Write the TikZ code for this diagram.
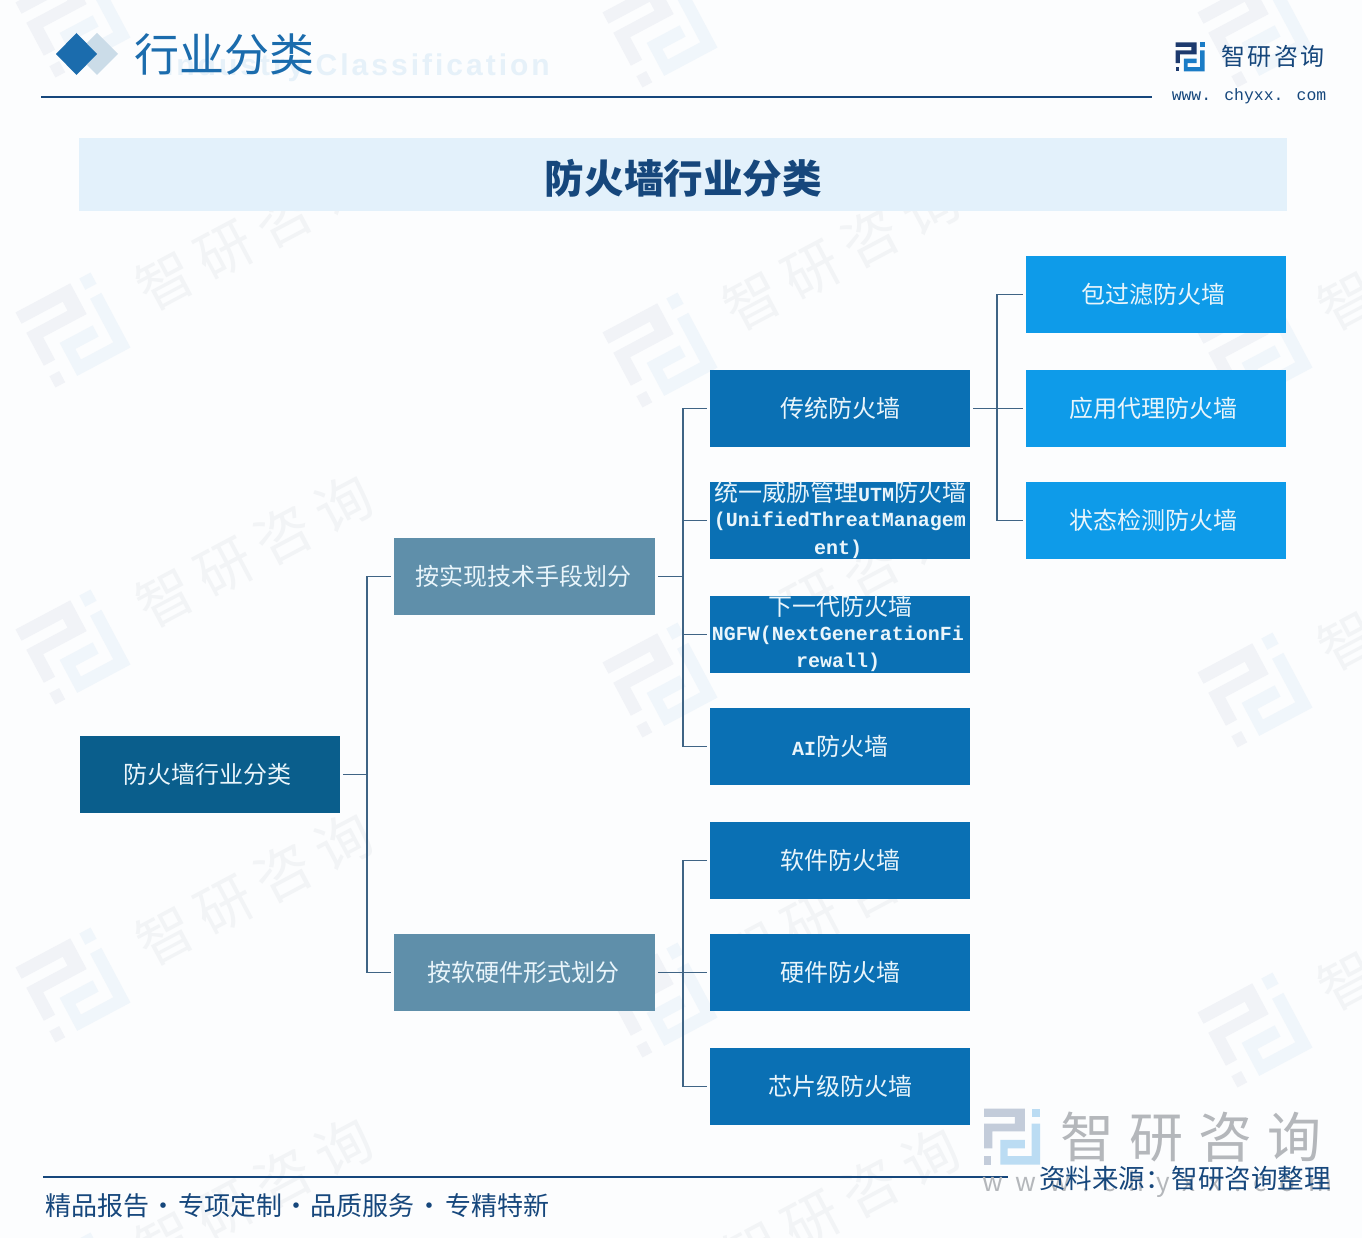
\documentclass[tikz,border=0pt]{standalone}
\usepackage{fontspec}
\usetikzlibrary{calc}
\setmainfont{Noto Sans CJK SC}
\newfontfamily\monof{Liberation Mono}
\newfontfamily\latinf[LetterSpace=10]{Liberation Sans}
\newfontfamily\wmf[LetterSpace=20]{Noto Sans CJK SC}
\newfontfamily\wmbigf[LetterSpace=28]{Noto Sans CJK SC}
\newfontfamily\brandf[LetterSpace=9]{Noto Sans CJK SC}
\definecolor{pagebg}{HTML}{FCFDFE}
\definecolor{rootc}{HTML}{0A5E8C}
\definecolor{midc}{HTML}{5F8FAA}
\definecolor{thirdc}{HTML}{0A70B4}
\definecolor{leafc}{HTML}{0E9BE9}
\definecolor{linec}{HTML}{3F6485}
\definecolor{boxtext}{HTML}{E9F5FB}
\definecolor{headc}{HTML}{1B6CAD}
\definecolor{navyc}{HTML}{16477C}
\definecolor{bannerc}{HTML}{E3F1FB}
\definecolor{entitlec}{HTML}{E6F1F9}
\definecolor{wma}{HTML}{F1F3F7}
\definecolor{wmb}{HTML}{F0F6FB}
\definecolor{wmt}{HTML}{F2F4F6}
\definecolor{biga}{HTML}{C3CCDA}
\definecolor{bigb}{HTML}{BBDCF3}
\definecolor{biggray}{HTML}{B4B7BB}
\definecolor{smalla}{HTML}{1D3A6E}
\definecolor{smallb}{HTML}{1B7CC6}
\definecolor{diamondc}{HTML}{CBDCE8}
\newcommand\zlogo[6]{%
  \begin{scope}[shift={(#1,#2)},rotate=#4,scale=#3,shift={(-.5,-.5)}]
    \fill[#5] (0,0) -- (.73,0) -- (.73,.41) -- (.15,.41) -- (.15,.71) -- (0,.71) -- (0,.27) -- (.55,.27) -- (.55,.15) -- (0,.15) -- cycle;
    \fill[#5] (0,.85) rectangle (.13,1);
    \fill[#6] (.85,0) rectangle (1,.15);
    \fill[#6] (.85,.27) -- (1,.27) -- (1,1) -- (.29,1) -- (.29,.56) -- (.73,.56) -- (.73,.71) -- (.42,.71) -- (.42,.85) -- (.85,.85) -- cycle;
  \end{scope}}
\newcommand\wmk[3]{%
  \zlogo{#2}{#3}{85}{28}{wma}{wmb}%
  \begin{scope}[shift={(#2,#3)},rotate=28]
    \node[wmtext,transform shape] (wm#1) at (205,0) {智研咨询};
  \end{scope}}
\newcommand\lft[1]{\hspace*{-6pt}#1}
\tikzset{
  x=1pt,y=-1pt,
  wmtext/.style={inner sep=0pt,text=wmt,font=\wmf\fontsize{56}{60}\selectfont},
  boxbase/.style={minimum width=260pt,minimum height=77pt,inner sep=0pt,text=boxtext,font=\fontsize{24}{28}\selectfont},
  rootbox/.style={boxbase,fill=rootc},
  midbox/.style={boxbase,fill=midc},
  thirdbox/.style={boxbase,fill=thirdc},
  leafbox/.style={boxbase,fill=leafc},
  stem/.style={draw=linec,line width=1.8pt,shorten <=3pt},
  branch/.style={draw=linec,line width=1.2pt,shorten >=3pt},
  inline/.style={inner sep=0pt,text=boxtext,font=\fontsize{24}{28}\selectfont},
  monoline/.style={inline,font=\monof\bfseries\fontsize{20}{24}\selectfont},
  plain/.style={inner sep=0pt},
}
\newcommand\mono[1]{{\monof\bfseries\fontsize{20}{24}\selectfont #1}}
\begin{document}
\begin{tikzpicture}
\useasboundingbox (0,0) rectangle (1362,1238);
\fill[pagebg] (0,0) rectangle (1362,1238);
% watermarks
\begin{scope}
\clip (0,0) rectangle (1362,1238);
\zlogo{73}{20}{85}{28}{wma}{wmb}
\zlogo{660}{30}{85}{28}{wma}{wmb}
\zlogo{1255}{30}{85}{28}{wma}{wmb}
\wmk{a}{73}{330}
\wmk{b}{73}{647}
\wmk{c}{73}{985}
\wmk{d}{73}{1290}
\wmk{e}{660}{350}
\wmk{f}{660}{680}
\wmk{g}{660}{1000}
\wmk{h}{660}{1300}
\wmk{i}{1255}{350}
\wmk{j}{1255}{690}
\wmk{k}{1255}{1030}
\end{scope}
% header
\node[plain,anchor=east,text=entitlec,font=\latinf\bfseries\fontsize{30}{34}\selectfont] (entitle) at (550,68) {Industry Classification};
\fill[diamondc] (97,33) -- (118,54) -- (97,75) -- (76,54) -- cycle;
\fill[headc] (76.5,33) -- (97,54) -- (76.5,75) -- (56,54) -- cycle;
\node[plain,anchor=west,text=headc,font=\fontsize{45}{50}\selectfont] (head) at (134,54) {行业分类};
\draw[navyc,line width=1.5pt] (41,97) -- (1152,97);
\zlogo{1190}{57}{29}{0}{smalla}{smallb}
\node[plain,text=navyc,font=\brandf\fontsize{24}{28}\selectfont] (brand) at (1273,56) {智研咨询};
\node[plain,text=navyc,font=\monof\fontsize{17.3}{20}\selectfont,scale=.95] (site) at (1249,96) {www. chyxx. com};
% banner
\fill[bannerc] (79,138) rectangle (1287,211);
\node[plain,text=navyc,font=\bfseries\fontsize{39.6}{44}\selectfont] (banner) at (683.5,178) {防火墙行业分类};
% boxes
\node[rootbox] (root) at (210,774.5) {\lft{防火墙行业分类}};
\node[midbox,minimum width=261pt] (tech) at (524.5,576.5) {\hspace*{-3pt}按实现技术手段划分};
\node[midbox,minimum width=261pt] (form) at (524.5,972.5) {\hspace*{-3pt}按软硬件形式划分};
\node[thirdbox] (trad) at (840,408.5) {传统防火墙};
\node[thirdbox] (utm) at (840,520.5) {};
\node[thirdbox] (ngfw) at (840,634.5) {};
\node[thirdbox] (ai) at (840,746.5) {\mono{AI}防火墙};
\node[thirdbox] (soft) at (840,860.5) {软件防火墙};
\node[thirdbox] (hard) at (840,972.5) {硬件防火墙};
\node[thirdbox] (chip) at (840,1086.5) {芯片级防火墙};
\node[leafbox] (pack) at (1156,294.5) {\lft{包过滤防火墙}};
\node[leafbox] (proxy) at (1156,408.5) {\lft{应用代理防火墙}};
\node[leafbox] (state) at (1156,520.5) {\lft{状态检测防火墙}};
% clipped multi-line labels
\begin{scope}
\clip (utm.south west) rectangle (utm.north east);
\node[inline] (utma) at (840,492) {统一威胁管理\mono{UTM}防火墙};
\node[monoline] (utmb) at (840,521) {(UnifiedThreatManagem};
\node[monoline] (utmc) at (838,549) {ent)};
\end{scope}
\begin{scope}
\clip (ngfw.south west) rectangle (ngfw.north east);
\node[inline] (nga) at (840,606) {下一代防火墙};
\node[monoline] (ngb) at (838,635) {NGFW(NextGenerationFi};
\node[monoline] (ngc) at (838,662) {rewall)};
\end{scope}
% connectors
\coordinate (j1) at (367,774.5);
\coordinate (j2) at (683,576.5);
\coordinate (j3) at (683,972.5);
\coordinate (j4) at (997,408.5);
\draw[stem] (root.east) -- (j1);
\draw[stem] (tech.east) -- (j2);
\draw[stem] (form.east) -- (j3);
\draw[stem] (trad.east) -- (j4);
\foreach \j/\t in {j1/tech,j1/form,j2/trad,j2/utm,j2/ngfw,j2/ai,j3/soft,j3/hard,j3/chip,j4/pack,j4/proxy,j4/state}
  \draw[branch] (\j) |- (\t.west);
% footer
\draw[navyc,line width=1.5pt] (43,1177) -- (1008,1177);
\zlogo{1012}{1136.5}{56}{0}{biga}{bigb}
\node[plain,anchor=west,text=biggray,font=\wmbigf\fontsize{54}{60}\selectfont] (wmbig) at (1060,1137) {智研咨询};
\node[plain,anchor=west,text=biggray,font=\fontsize{26}{30}\selectfont] (wmurl) at (982,1184) {\makebox[350pt][s]{w\hfill w\hfill w\hfill .\hfill c\hfill h\hfill y\hfill x\hfill x\hfill .\hfill c\hfill o\hfill m}};
\node[plain,anchor=west,text=navyc,font=\fontsize{26}{30}\selectfont] (slogan) at (45,1206) {精品报告\makebox[29pt][c]{·}专项定制\makebox[28pt][c]{·}品质服务\makebox[31pt][c]{·}专精特新};
\node[plain,anchor=east,text=navyc,font=\fontsize{26.5}{30}\selectfont] (source) at (1331,1179) {资料来源：智研咨询整理};
\end{tikzpicture}
\end{document}
